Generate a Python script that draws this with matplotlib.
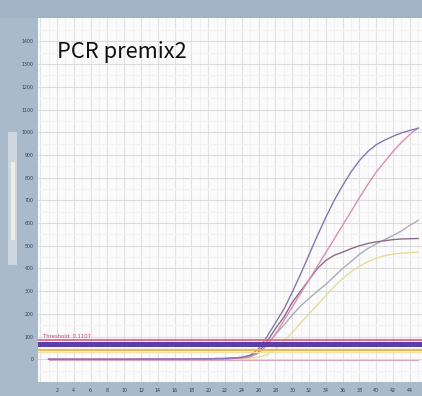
import matplotlib
matplotlib.use("Agg")
import matplotlib.pyplot as plt
from matplotlib.patches import Rectangle

title = "PCR premix2"
cycles = list(range(1, 46))
base21 = [0, 0, 0, 0, 0, 0, 0, 0, 0, 0, 0, 1, 1, 1, 1, 1, 1, 2, 2, 2, 3]
purple = base21 + [4, 6, 9, 18, 46, 100, 160, 220, 295, 375, 460, 545, 625, 700, 765,
                   825, 875, 915, 945, 965, 982, 997, 1008, 1017]
pink = base21 + [3, 5, 7, 12, 28, 62, 110, 170, 230, 290, 350, 410, 470, 530, 590,
                 650, 712, 770, 825, 870, 915, 955, 990, 1020]
mauve = base21 + [3, 4, 8, 14, 33, 78, 135, 185, 250, 300, 350, 400, 435, 458, 472,
                  487, 500, 510, 517, 522, 527, 530, 531, 532]
gray = base21 + [2, 4, 6, 12, 28, 63, 110, 150, 195, 235, 268, 300, 330, 365, 400,
                 430, 462, 488, 508, 527, 545, 565, 590, 612]
yellow = base21 + [1, 2, 3, 5, 9, 20, 45, 80, 118, 160, 200, 240, 280, 320, 355,
                   385, 410, 430, 445, 456, 463, 468, 470, 472]
ntc = [-3] * 45

thresholds = [87, 69, 42, 31]
threshold_colors = ["#e8607e", "#5b3ea6", "#f2b451", "#efe3a8"]
threshold_widths = [1.3, 3.6, 1.4, 1.0]

yticks = list(range(0, 1500, 100))
xticks = list(range(2, 46, 2))

W, H = 422, 396
fig = plt.figure(figsize=(W / 100, H / 100), dpi=100)
fig.patch.set_facecolor("#a9bbca")
fig.patches.append(Rectangle((0, 1 - 18 / H), 1, 18 / H, transform=fig.transFigure,
                             facecolor="#a0b4c5", edgecolor="none", zorder=0))
fig.patches.append(Rectangle((8 / W, 1 - 265 / H), 9 / W, 133 / H, transform=fig.transFigure,
                             facecolor="#cdd6df", edgecolor="none", zorder=1))
fig.patches.append(Rectangle((11 / W, 1 - 240 / H), 4 / W, 78 / H, transform=fig.transFigure,
                             facecolor="#f1ede2", edgecolor="none", zorder=2))

ax = fig.add_axes([38 / W, 14 / H, 1 - 38 / W, 1 - 14 / H - 18 / H])
ax.set_facecolor("#fbfbfb")
ax.set_xlim(-0.26, 45.45)
ax.set_ylim(-100, 1503)

for c in range(0, 46):
    ax.axvline(c, color="#e2e2e2" if c % 2 == 0 else "#f2f2f2", lw=0.8, zorder=0)
for v in range(-50, 1500, 50):
    ax.axhline(v, color="#dcdcdc" if v % 100 == 0 else "#f3f3f3", lw=0.8, zorder=0)

ax.plot(cycles, ntc, color="#d9a6c0", lw=0.8, zorder=2)
series = [(yellow, "#e6dc98"), (gray, "#a9adbd"), (mauve, "#8c6c86"),
          (pink, "#d98fb0"), (purple, "#8676b6")]
for vals, col in series:
    ax.plot(cycles, vals, color=col, lw=1.0, zorder=3)

for t, col, lw in zip(thresholds, threshold_colors, threshold_widths):
    ax.axhline(t, color=col, lw=lw, zorder=4)

ax.text(0.3, 92, "Threshold: 0.1107", fontsize=3.8, color="#d0406a", zorder=5)

for s in ax.spines.values():
    s.set_visible(False)
ax.set_yticks(yticks)
ax.set_yticklabels([str(v) for v in yticks], fontsize=3.4, color="#36404c")
ax.set_xticks(xticks)
ax.set_xticklabels([str(v) for v in xticks], fontsize=3.4, color="#36404c")
ax.tick_params(axis="y", length=0, pad=3)
ax.tick_params(axis="x", length=0, pad=4)

fig.text(57 / W, 1 - 52 / H, title, fontsize=15.7, family=["Noto Sans CJK KR", "DejaVu Sans"],
         color="#111111", va="center", ha="left")

fig.savefig("out.png", dpi=100, facecolor=fig.get_facecolor())
